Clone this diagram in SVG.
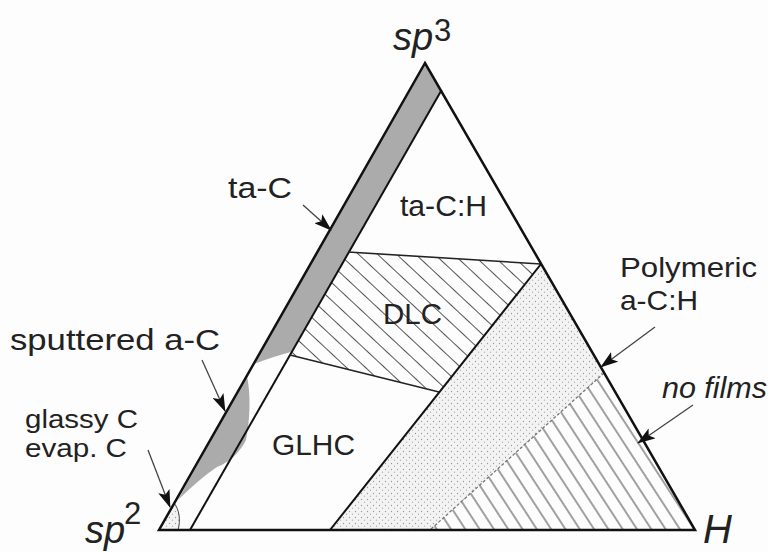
<svg xmlns="http://www.w3.org/2000/svg" width="768" height="552" viewBox="0 0 768 552">
<defs>
<style>
.lbl{font-family:"Liberation Sans",Arial,sans-serif;fill:#222}
.it{font-style:italic}
.edge{fill:none;stroke:#111;stroke-width:2.5;stroke-linejoin:miter}
.inner{fill:none;stroke:#111;stroke-width:2}
.bnd{fill:none;stroke:#222;stroke-width:1.6}
.arr{fill:none;stroke:#444;stroke-width:1.3;marker-end:url(#ah)}
</style>
<marker id="ah" markerUnits="userSpaceOnUse" markerWidth="18" markerHeight="12" refX="17" refY="6" orient="auto">
<path d="M0,0 L18,6 L0,12 L4,6 z" fill="#111"/>
</marker>
<pattern id="hDLC" patternUnits="userSpaceOnUse" width="13" height="13" patternTransform="rotate(43)">
<line x1="0" y1="6.5" x2="13" y2="6.5" stroke="#555" stroke-width="1"/>
</pattern>
<pattern id="hNF" patternUnits="userSpaceOnUse" width="12" height="12" patternTransform="rotate(57)">
<line x1="0" y1="6" x2="12" y2="6" stroke="#444" stroke-width="1"/>
</pattern>
<pattern id="dots" patternUnits="userSpaceOnUse" width="6" height="6">
<rect width="6" height="6" fill="#f3f3f3"/>
<circle cx="1.5" cy="1.5" r="0.65" fill="#9a9a9a"/>
<circle cx="4.5" cy="4.2" r="0.65" fill="#aaa"/>
</pattern>
</defs>
<rect width="768" height="552" fill="#fdfdfd"/>

<g id="region-taC">
<path d="M425,63 L441.6,90 L291,352 Q275,356 254,364 Z" fill="#ababab"/>
</g>
<g id="region-sputtered">
<path d="M247,376 C251,395 250,420 246,440 C240,452 230,462 217,467 C205,475 190,488 178,500 Z" fill="#ababab"/>
</g>
<g id="region-glassy">
<path d="M174,503 C179,509 181,520 178,530 L159,530 Z" fill="url(#dots)"/>
<path d="M174,503 C179,509 181,520 178,530" fill="none" stroke="#444" stroke-width="1"/>
</g>
<g id="region-taCH">
<text class="lbl" x="400" y="216" font-size="29" textLength="87" lengthAdjust="spacingAndGlyphs">ta-C:H</text>
</g>
<g id="region-DLC">
<path d="M348,252 L541,264 L439,392 L290,355 Z" fill="url(#hDLC)"/>
<text class="lbl" x="383" y="324" font-size="29" textLength="59" lengthAdjust="spacingAndGlyphs">DLC</text>
</g>
<g id="region-GLHC">
<text class="lbl" x="272" y="455" font-size="30" textLength="83" lengthAdjust="spacingAndGlyphs">GLHC</text>
</g>
<g id="region-polymeric">
<path d="M541,264 L604,373 L430,530 L330,530 Z" fill="url(#dots)"/>
</g>
<g id="region-nofilms">
<path d="M604,373 L695,530 L430,530 Z" fill="url(#hNF)"/>
<path d="M604,373 L430,530" fill="none" stroke="#777" stroke-width="1.3" stroke-dasharray="3,2"/>
</g>

<g id="boundaries">
<path class="inner" d="M441.6,90 L190,530"/>
<path class="bnd" d="M348,252 L541,264"/>
<path class="bnd" d="M290,355 L439,392"/>
<path class="inner" d="M541,264 L330,530"/>
</g>
<g id="triangle">
<path class="edge" d="M425,63 L159,530 L695,530 Z"/>
</g>

<g id="vertex-sp3">
<text class="lbl it" x="393" y="50" font-size="38">sp</text>
<text class="lbl" x="434" y="41" font-size="31">3</text>
</g>
<g id="vertex-sp2">
<text class="lbl it" x="85" y="543" font-size="38">sp</text>
<text class="lbl" x="124" y="524" font-size="31">2</text>
</g>
<g id="vertex-H">
<text class="lbl it" x="703" y="543" font-size="40">H</text>
</g>

<g id="label-taC"><text class="lbl" x="228" y="198" font-size="29" textLength="64" lengthAdjust="spacingAndGlyphs">ta-C</text></g>
<g id="label-sputtered"><text class="lbl" x="10" y="350" font-size="29" textLength="210" lengthAdjust="spacingAndGlyphs">sputtered a-C</text></g>
<g id="label-glassy">
<text class="lbl" x="25" y="428" font-size="25" textLength="113" lengthAdjust="spacingAndGlyphs">glassy C</text>
<text class="lbl" x="25" y="457" font-size="25" textLength="102" lengthAdjust="spacingAndGlyphs">evap. C</text>
</g>
<g id="label-polymeric">
<text class="lbl" x="620" y="277" font-size="28" textLength="137" lengthAdjust="spacingAndGlyphs">Polymeric</text>
<text class="lbl" x="620" y="310" font-size="28" textLength="78" lengthAdjust="spacingAndGlyphs">a-C:H</text>
</g>
<g id="label-nofilms"><text class="lbl it" x="662" y="398" font-size="29" textLength="105" lengthAdjust="spacingAndGlyphs">no films</text></g>

<g id="connectors">
<line class="arr" x1="303" y1="205" x2="331" y2="230"/>
<line class="arr" x1="202" y1="360" x2="225" y2="411"/>
<line class="arr" x1="148" y1="450" x2="170" y2="507"/>
<line class="arr" x1="655" y1="327" x2="601" y2="367"/>
<line class="arr" x1="693" y1="405" x2="638" y2="443"/>
</g>
</svg>
